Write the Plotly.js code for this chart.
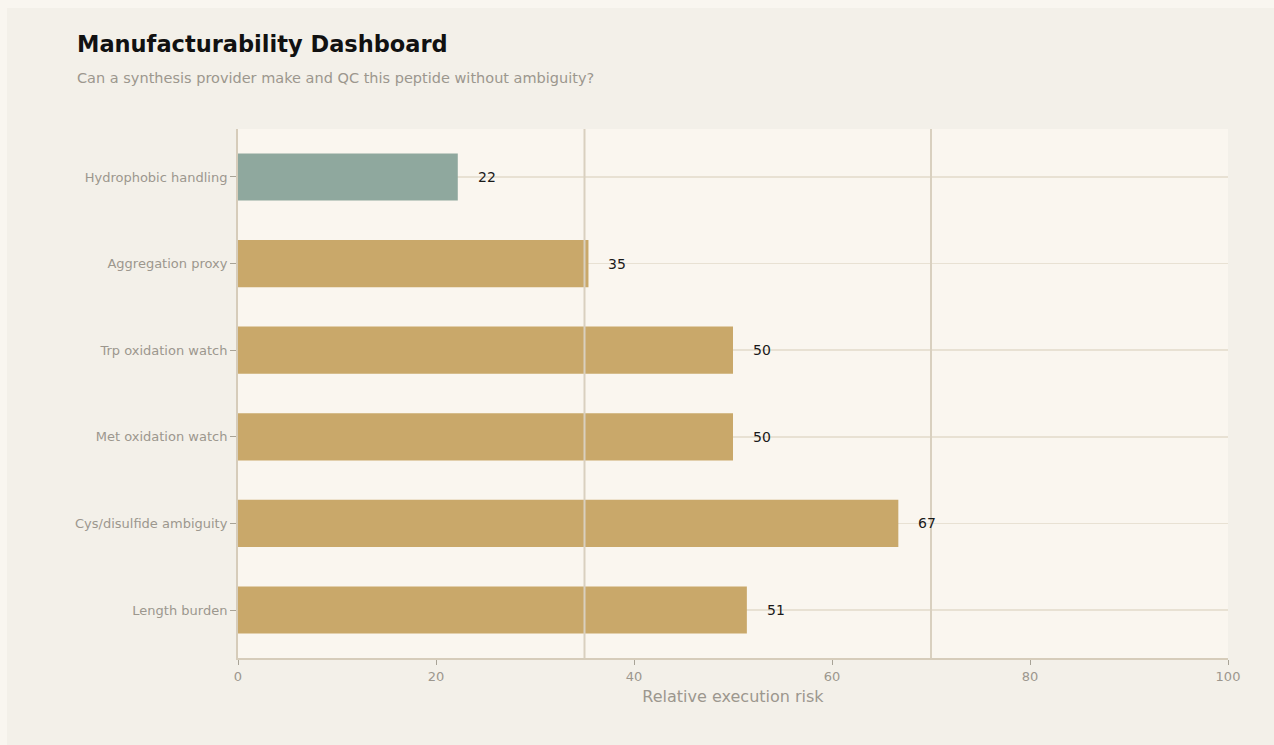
<!DOCTYPE html>
<html>
<head>
<meta charset="utf-8">
<script src="https://cdn.plot.ly/plotly-3.0.1.min.js"></script>
<style>
html, body { margin: 0; padding: 0; background: #f9f6f0; width: 1274px; height: 745px; overflow: hidden; }
#chart { position: absolute; left: 7px; top: 8px; width: 1267px; height: 737px; }
</style>
</head>
<body>
<div id="chart"></div>
<script>
// Data (top-to-bottom order as displayed)
const categories = [
  "Hydrophobic handling",
  "Aggregation proxy",
  "Trp oxidation watch",
  "Met oxidation watch",
  "Cys/disulfide ambiguity",
  "Length burden"
];
const riskValues = [22.2, 35.4, 50.0, 50.0, 66.7, 51.4];
const barColors = ["#8fa89e", "#c9a86a", "#c9a86a", "#c9a86a", "#c9a86a", "#c9a86a"];
const thresholds = [35, 70];
const xTicks = [0, 20, 40, 60, 80, 100];

const FONT = "DejaVu Sans, sans-serif";
const GREY = "#9c978e";

const trace = {
  type: "bar",
  orientation: "h",
  y: categories,
  x: riskValues,
  width: 0.545,
  marker: { color: barColors, line: { width: 0 } },
  hoverinfo: "none"
};

const valueLabels = categories.map((c, i) => ({
  x: riskValues[i],
  y: c,
  xref: "x",
  yref: "y",
  text: String(Math.round(riskValues[i])),
  showarrow: false,
  xanchor: "left",
  yanchor: "middle",
  xshift: 18,
  font: { family: FONT, size: 14, color: "#1a1a1a" }
}));

const thresholdShapes = thresholds.map(t => ({
  type: "line",
  xref: "x",
  yref: "paper",
  x0: t, x1: t, y0: 0, y1: 1,
  line: { color: "#d9d0bf", width: 2 },
  layer: "above"
}));

const pad = 0.054;
const layout = {
  width: 1267,
  height: 737,
  paper_bgcolor: "#f3f0e9",
  plot_bgcolor: "#faf6ef",
  margin: { l: 231, r: 46, t: 121, b: 87 },
  font: { family: FONT, color: GREY },
  showlegend: false,
  title: {
    text: "<b>Manufacturability Dashboard</b>",
    font: { family: FONT, size: 22.5, color: "#111111" },
    x: 70 / 1267,
    xref: "container",
    xanchor: "left",
    y: 1 - 36 / 737,
    yref: "container",
    yanchor: "middle"
  },
  xaxis: {
    range: [0, 100],
    tickvals: xTicks,
    ticktext: xTicks.map(String),
    showgrid: false,
    zeroline: false,
    showline: true,
    linecolor: "#d6ccba",
    linewidth: 2,
    ticks: "outside",
    ticklen: 5,
    tickwidth: 1,
    tickcolor: "#a8a397",
    tickfont: { family: FONT, size: 13, color: GREY },
    title: {
      text: "Relative execution risk",
      font: { family: FONT, size: 16, color: GREY },
      standoff: 8
    },
    fixedrange: true
  },
  yaxis: {
    type: "category",
    range: [categories.length - 0.5 + pad, -0.5 - pad],
    showgrid: true,
    gridcolor: "#e8e1d3",
    gridwidth: 1.5,
    zeroline: false,
    showline: true,
    linecolor: "#d6ccba",
    linewidth: 2,
    ticks: "outside",
    ticklen: 6,
    tickwidth: 1,
    tickcolor: "#a8a397",
    tickfont: { family: FONT, size: 13, color: GREY },
    fixedrange: true
  },
  shapes: thresholdShapes,
  annotations: valueLabels.concat([{
    text: "Can a synthesis provider make and QC this peptide without ambiguity?",
    xref: "paper",
    yref: "paper",
    x: (75 - 238) / 990,
    y: (658 - 78) / 529,
    xanchor: "left",
    yanchor: "middle",
    showarrow: false,
    font: { family: FONT, size: 14.5, color: GREY }
  }])
};

Plotly.newPlot("chart", [trace], layout, { displayModeBar: false, staticPlot: true });
</script>
</body>
</html>
